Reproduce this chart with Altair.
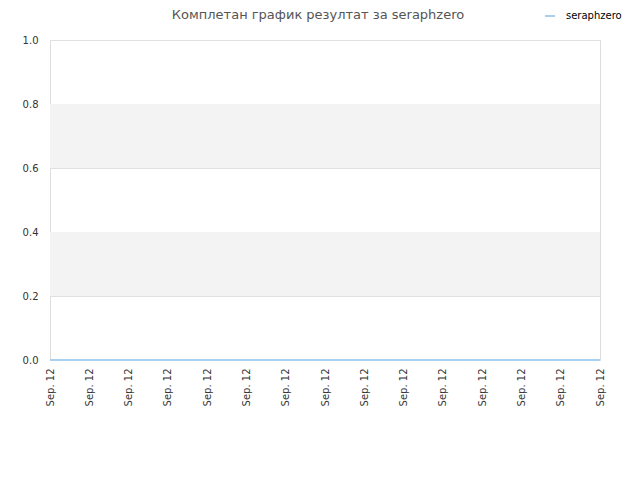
import altair as alt
import pandas as pd

x_labels = ["Sep. 12"] * 15
values = [0] * 15
series = "seraphzero"
band_start = [0.2, 0.6]
band_end = [0.4, 0.8]

df = pd.DataFrame({"idx": list(range(len(values))), "value": values, "series": [series] * len(values)})
bands = pd.DataFrame({"y": band_start, "y2": band_end})

label_arr = "[" + ",".join("'" + s + "'" for s in x_labels) + "]"

xscale = alt.Scale(domain=[0, len(values) - 1], nice=False, zero=False)
yscale = alt.Scale(domain=[0, 1], nice=False)

band_layer = alt.Chart(bands).mark_rect(color="#f3f3f3").encode(
    y=alt.Y("y:Q", scale=yscale),
    y2="y2:Q",
    x=alt.value(0),
    x2=alt.value(550),
)

line = alt.Chart(df).mark_line(strokeWidth=2).encode(
    x=alt.X("idx:Q", scale=xscale,
            axis=alt.Axis(values=list(range(len(values))), labelExpr=label_arr + "[datum.value]",
                          labelAngle=270, title=None, grid=False, ticks=False, domain=False,
                          labelFontSize=10, labelColor="#333", labelPadding=8,
                          labelFont="DejaVu Sans")),
    y=alt.Y("value:Q", scale=yscale,
            axis=alt.Axis(values=[0, 0.2, 0.4, 0.6, 0.8, 1.0], format=".1f", title=None,
                          grid=True, gridColor="#e0e0e0", ticks=False, domain=False,
                          labelFontSize=10, labelColor="#333", labelPadding=12,
                          labelFont="DejaVu Sans")),
    color=alt.Color("series:N", scale=alt.Scale(range=["#a8d0f0"]),
                    legend=alt.Legend(title=None, orient="none", legendX=494, legendY=-30,
                                      symbolType="stroke", symbolStrokeWidth=2, symbolSize=100,
                                      labelFontSize=10, labelColor="#000", labelOffset=10,
                                      labelFont="DejaVu Sans")),
)

chart = alt.layer(band_layer, line).properties(
    width=550, height=320,
    title=alt.TitleParams("Комплетан график резултат за seraphzero", fontSize=13,
                          fontWeight="normal", color="#555", font="DejaVu Sans",
                          anchor="middle", frame="group", offset=-12, dx=-7),
    padding={"left": 42, "top": 32, "right": 32, "bottom": 112},
    autosize=alt.AutoSizeParams(type="none"),
).configure_view(stroke="#dddddd")

chart.save("out.html", embed_options={"renderer": "svg", "actions": False})
